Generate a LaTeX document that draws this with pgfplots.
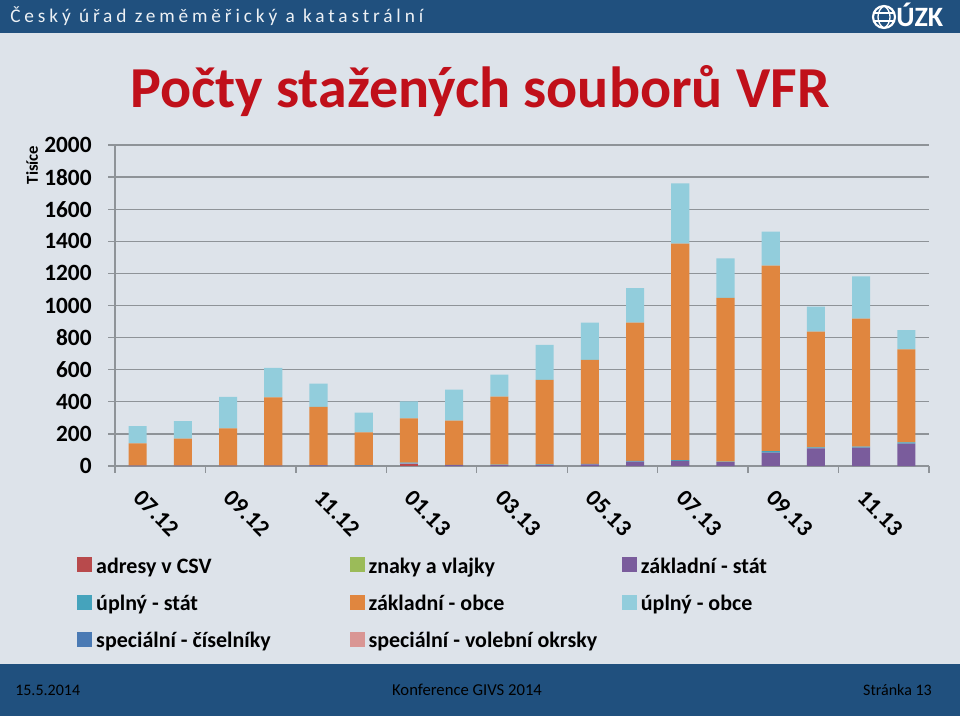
\documentclass[border=0pt]{standalone}
\usepackage{pgfplots}
\pgfplotsset{compat=1.18}
\usepackage{pgfplotstable}
\usepackage{fontspec}
\setmainfont{Carlito}

\definecolor{bgc}{HTML}{DDE3EA}
\definecolor{hdr}{HTML}{20507E}
\definecolor{gridc}{HTML}{8E9398}
\definecolor{titlec}{HTML}{C0101A}
\definecolor{cAdr}{HTML}{B84A4C}
\definecolor{cZn}{HTML}{9BBB59}
\definecolor{cZs}{HTML}{7A5C9C}
\definecolor{cUs}{HTML}{45A3BC}
\definecolor{cZo}{HTML}{E0863F}
\definecolor{cUo}{HTML}{92CDDC}
\definecolor{cSc}{HTML}{4A7AB4}
\definecolor{cSv}{HTML}{D99694}

\newcommand{\legtxt}[1]{\makebox[190pt][l]{\strut#1}}

% downloads per month, thousands
\pgfplotstableread{
x adr zn zs us zo uo sc sv
0 0 0 2 1 138 108 0 0
1 0 0 2 1 167 110 0 0
2 0 0 2 1 232 195 0 0
3 0 0 2 1 425 184 0 0
4 0 0 4 2 362 145 0 0
5 0 0 3 2 205 122 0 0
6 15 0 2 4 276 105 0 0
7 0 0 5 2 275 194 0 0
8 0 0 6 2 424 137 0 0
9 0 0 7 3 526 218 0 0
10 0 0 10 3 649 231 0 0
11 0 0 28 4 861 216 0 0
12 0 0 32 4 1349 376 0 0
13 0 0 24 4 1019 247 0 0
14 0 0 83 10 1155 212 0 0
15 0 0 110 6 721 156 0 0
16 0 0 114 6 798 264 0 0
17 0 0 140 7 580 120 0 0
}\vfrdata

\pgfplotsset{sq/.style={fill=#1, draw=none,
  legend image code/.code={\fill[##1] (0pt,-5.6pt) rectangle (11.25pt,5.65pt);}}}

\begin{document}
\begin{tikzpicture}
\begin{scope}[x=0.75pt,y=-0.75pt]
\useasboundingbox (0,0) rectangle (960,716);
\fill[bgc] (0,0) rectangle (960,716);
\fill[hdr] (0,0) rectangle (960,33);
\fill[hdr] (0,664) rectangle (960,716);
\node[anchor=base west, text=white!92!hdr, font=\fontsize{14.5}{16}\selectfont\addfontfeatures{LetterSpace=20}, inner sep=0]
  at (10,22.5) {Český úřad zeměměřický a katastrální};
% logo
\draw[white, line width=1.6pt] (884,17) circle (11);
\draw[white, line width=1pt] (884,6) .. controls (876,10) and (876,24) .. (884,28);
\draw[white, line width=1pt] (884,6) .. controls (892,10) and (892,24) .. (884,28);
\draw[white, line width=1pt] (873,13) -- (895,13) (873,21) -- (895,21);
\node[anchor=base west, text=white, font=\fontsize{21}{22}\selectfont\bfseries, inner sep=0] at (896,27) {ÚZK};
% title
\node[anchor=base, text=titlec, font=\fontsize{43.5}{45}\selectfont\bfseries, inner sep=0] at (480,108) {Počty stažených souborů VFR};
\node[rotate=90, font=\fontsize{12.5}{13}\selectfont\bfseries, inner sep=0] at (32,165) {Tisíce};
% footer
\node[anchor=base west, font=\fontsize{12}{13}\selectfont, inner sep=0] at (15,695) {15.5.2014};
\node[anchor=base, font=\fontsize{12.5}{14}\selectfont, inner sep=0] at (467,695) {Konference GIVS 2014};
\node[anchor=base east, font=\fontsize{12}{13}\selectfont, inner sep=0] at (932,695) {Stránka 13};
\end{scope}

\begin{axis}[
  at={(86.25pt,-349.5pt)}, anchor=south west,
  width=610.5pt, height=240.75pt, scale only axis,
  ybar stacked, bar width=0.4,
  xmin=-0.5, xmax=17.5, ymin=0, ymax=2000,
  axis x line*=bottom, axis y line*=left,
  axis line style={gridc, line width=1pt},
  ymajorgrids, grid style={gridc, line width=1pt},
  ytick={0,200,...,2000},
  xtick={-0.5,1.5,...,17.5}, xticklabels={},
  tick align=outside, major tick length=5pt,
  tick style={gridc, line width=1pt},
  yticklabel style={font=\fontsize{17.5}{17.5}\selectfont\bfseries, xshift=-9pt},
  /pgf/number format/assume math mode=true,
  /pgf/number format/1000 sep={},
  extra x ticks={0,2,...,16},
  extra x tick labels={07.12,09.12,11.12,01.13,03.13,05.13,07.13,09.13,11.13},
  extra x tick style={major tick length=0pt, grid=none,
    tick label style={font=\fontsize{17.5}{17.5}\selectfont\bfseries, yshift=-21pt, rotate=-45, anchor=west, inner sep=0pt}},
  legend columns=3,
  legend style={draw=none, fill=none, inner sep=0pt, at={(-0.0467,-0.275)}, anchor=north west,
    font=\fontsize{16.5}{20}\selectfont\bfseries, row sep=12.5pt,
    nodes={inner sep=0pt},
    /tikz/every odd column/.append style={column sep=3pt}},
]
\addplot[sq=cAdr] table[x=x, y=adr] {\vfrdata};
\addlegendentry{\legtxt{adresy v CSV}}
\addplot[sq=cZn] table[x=x, y=zn] {\vfrdata};
\addlegendentry{\legtxt{znaky a vlajky}}
\addplot[sq=cZs] table[x=x, y=zs] {\vfrdata};
\addlegendentry{\legtxt{základní - stát}}
\addplot[sq=cUs] table[x=x, y=us] {\vfrdata};
\addlegendentry{\legtxt{úplný - stát}}
\addplot[sq=cZo] table[x=x, y=zo] {\vfrdata};
\addlegendentry{\legtxt{základní - obce}}
\addplot[sq=cUo] table[x=x, y=uo] {\vfrdata};
\addlegendentry{\legtxt{úplný - obce}}
\addplot[sq=cSc] table[x=x, y=sc] {\vfrdata};
\addlegendentry{\legtxt{speciální - číselníky}}
\addplot[sq=cSv] table[x=x, y=sv] {\vfrdata};
\addlegendentry{\legtxt{speciální - volební okrsky}}
\end{axis}
\end{tikzpicture}
\end{document}
